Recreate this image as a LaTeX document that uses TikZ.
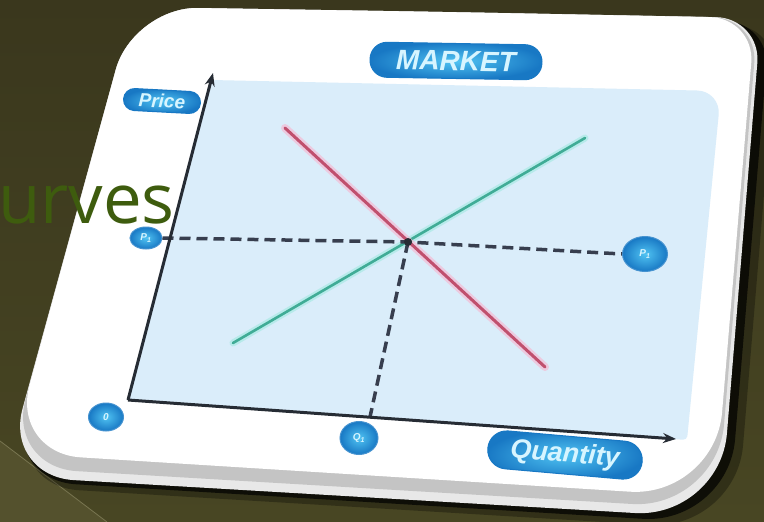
\documentclass[tikz,border=0pt]{standalone}
\usepackage{fontspec}
\setsansfont{Liberation Sans}
\newfontfamily\urvfont{Open Sans}
\usetikzlibrary{shapes.geometric,arrows.meta}
\definecolor{bgtop}{RGB}{58,55,29}
\definecolor{bgbot}{RGB}{72,70,35}
\definecolor{bgtri}{RGB}{84,81,45}
\definecolor{bgline}{RGB}{120,117,80}
\definecolor{rimcol}{RGB}{232,232,232}
\definecolor{bandcol}{RGB}{196,196,196}
\definecolor{panelblue}{RGB}{218,237,250}
\definecolor{pillout}{RGB}{24,120,196}
\definecolor{pillin}{RGB}{80,195,242}
\definecolor{pilltext}{RGB}{215,245,255}
\definecolor{axiscol}{RGB}{38,44,52}
\definecolor{dashcol}{RGB}{55,62,78}
\definecolor{demandcol}{RGB}{192,80,110}
\definecolor{demandglow}{RGB}{248,180,205}
\definecolor{supplycol}{RGB}{64,172,150}
\definecolor{supplyglow}{RGB}{160,232,224}
\definecolor{titlegreen}{RGB}{62,92,14}
\begin{document}
\begin{tikzpicture}[x=1pt,y=-1pt,
  pill/.style={rectangle, rounded corners=#1, inner sep=0pt,
    inner color=pillin, outer color=pillout, draw=pillout, line width=1pt,
    text=pilltext, font=\sffamily\bfseries\itshape},
  dot/.style={ellipse, inner sep=0pt, inner color=pillin, outer color=pillout,
    draw=pillout!80!white, line width=1pt, text=pilltext,
    font=\sffamily\bfseries\itshape\fontsize{10}{11}\selectfont},
  axisline/.style={draw=axiscol, line width=3pt, -{Stealth[length=13pt,width=10pt]}},
  dashline/.style={draw=dashcol, line width=3.5pt, dash pattern=on 11pt off 6pt},
]
\useasboundingbox (0,0) rectangle (764,522);
% slide background
\fill[top color=bgtop, bottom color=bgbot] (0,0) rectangle (764,522);
\fill[bgtri] (0,441) -- (107,522) -- (0,522) -- cycle;
\draw[bgline, line width=0.8pt] (0,441) -- (107,522);
% card shadow
\fill[black, opacity=0.3] (452,18) [rounded corners=45pt] -- (778,26) [rounded corners=85pt] -- (736,530) [rounded corners=70pt] -- (9,486) [rounded corners=65pt] -- (140,13) -- cycle;
\fill[black, opacity=0.7] (449,15) [rounded corners=45pt] -- (770,22) [rounded corners=85pt] -- (728,524) [rounded corners=70pt] -- (6,480) [rounded corners=65pt] -- (137,10) -- cycle;
% card body
\fill[rimcol] (446,12) [rounded corners=45pt] -- (761,18) [rounded corners=85pt] -- (720,518) [rounded corners=70pt] -- (4,476) [rounded corners=65pt] -- (133,7) -- cycle;
\fill[bandcol] (446,12) [rounded corners=45pt] -- (758,18) [rounded corners=85pt] -- (717,509) [rounded corners=70pt] -- (7,467) [rounded corners=65pt] -- (133,7) -- cycle;
\fill[white] (446,12) [rounded corners=45pt] -- (755,18) [rounded corners=85pt] -- (715,497) [rounded corners=70pt] -- (11,453) [rounded corners=65pt] -- (133,7) -- cycle;
% panel
\fill[panelblue] (211,80) [rounded corners=24pt] -- (721,91) [rounded corners=4pt] -- (687,440) -- (128,400) -- cycle;
% coordinates
\coordinate (O) at (128,400);
\coordinate (ytip) at (213,73);
\coordinate (xtip) at (676,439);
\coordinate (eq) at (408,242);
\coordinate (qfoot) at (370,417);
\coordinate (d1) at (285,128);
\coordinate (d2) at (545,367);
\coordinate (s1) at (233,343);
\coordinate (s2) at (585,138);
% labels
\node[pill=17pt, minimum width=172pt, minimum height=35pt, rotate=-1, font=\sffamily\bfseries\itshape\fontsize{28}{29}\selectfont] (market) at (456,61) {MARKET};
\node[pill=11pt, minimum width=77pt, minimum height=22pt, rotate=-3, font=\sffamily\bfseries\itshape\fontsize{19}{20}\selectfont] (price) at (162,101) {Price};
\node[pill=19pt, minimum width=155pt, minimum height=38pt, rotate=-5, font=\sffamily\bfseries\itshape\fontsize{27}{28}\selectfont] (qty) at (565,455) {Quantity};
\node[dot, minimum width=32pt, minimum height=22pt] (pl) at (146,238) {P\textsubscript{1}};
\node[dot, minimum width=45pt, minimum height=35pt] (pr) at (645,254) {P\textsubscript{1}};
\node[dot, minimum width=35pt, minimum height=28pt] (zero) at (106,417) {0};
\node[dot, minimum width=38pt, minimum height=33pt] (q1) at (359,438) {Q\textsubscript{1}};
% curves with glow
\draw[supplyglow, line width=7pt, opacity=0.6, line cap=round] (s1) -- (s2);
\draw[supplycol, line width=2.6pt, line cap=round] (s1) -- (s2);
\draw[demandglow, line width=8pt, opacity=0.6, line cap=round] (d1) -- (d2);
\draw[demandcol, line width=3pt, line cap=round] (d1) -- (d2);
% dashed guides
\draw[dashline] (pl.east) -- (eq) -- (pr.west);
\draw[dashline] (eq) -- (qfoot);
\fill[axiscol] (eq) circle (4pt);
% axes
\draw[axisline] (O) -- (ytip);
\draw[axisline] (O) -- (xtip);
% slide title fragment
\node[anchor=base east, inner sep=0pt, text=titlegreen, font=\urvfont\fontsize{69}{72}\selectfont] (title) at (175,223) {urves};
\end{tikzpicture}
\end{document}
